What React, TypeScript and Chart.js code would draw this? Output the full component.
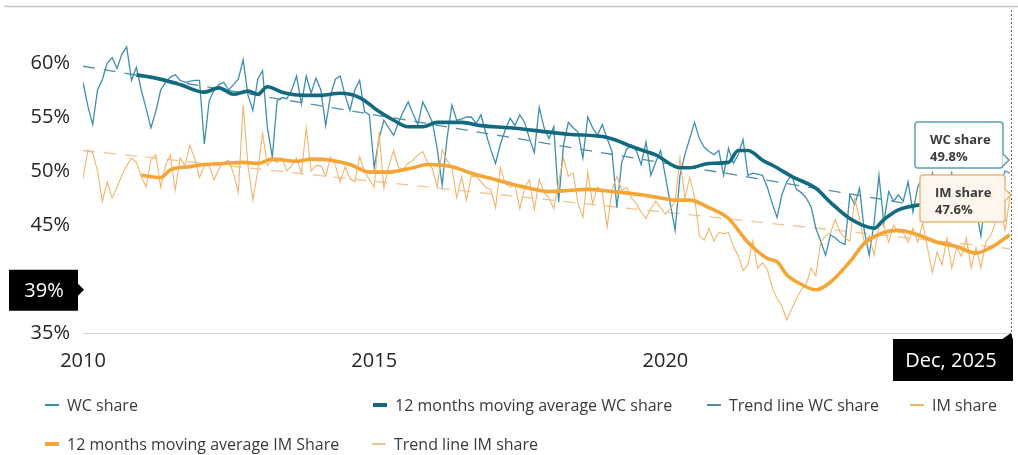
import React, { useEffect, useRef } from "react";
import { Chart, registerables } from "chart.js";

Chart.register(...registerables);

// ---------- data ----------
const yearTickMonths = [0, 60, 120];
const yearTickLabels = ["2010", "2015", "2020"];
const yTickValues = [35, 40, 45, 50, 55, 60];

const wcShare = [
  58.2, 56.0, 54.3, 57.5, 58.5, 60.0, 60.5, 59.5, 60.8, 61.5, 58.4, 59.6,
  57.5, 55.8, 54.0, 55.5, 57.5, 58.2, 58.7, 58.9, 58.4, 58.2, 58.3, 58.4,
  58.4, 52.5, 56.5, 57.5, 58.0, 58.2, 57.5, 58.0, 58.5, 60.3, 57.0, 55.6,
  58.5, 59.3, 54.0, 51.3, 56.5, 56.8, 56.7, 57.5, 58.8, 56.2, 58.8, 57.2,
  58.6, 57.5, 54.2, 57.0, 58.5, 58.8, 57.0, 55.6, 57.5, 58.4, 55.5, 55.2,
  50.3, 53.0, 54.7, 54.0, 53.3, 54.5, 55.5, 56.4, 55.3, 54.3, 56.4, 55.5,
  54.5, 52.0, 48.7, 53.0, 56.1, 54.7, 54.8, 55.0, 55.0, 54.4, 55.2, 53.5,
  52.0, 50.7, 52.5, 53.8, 54.9, 54.2, 55.2, 54.5, 53.0, 51.7, 55.9, 54.0,
  53.0, 54.1, 47.1, 52.4, 54.5, 54.0, 53.6, 51.2, 55.0, 54.0, 53.3, 54.3,
  53.0, 51.8, 46.6, 50.8, 52.0, 52.4, 51.9, 50.6, 52.7, 49.6, 50.8, 51.9,
  49.5, 47.0, 44.5, 49.6, 51.5, 53.0, 54.5, 53.0, 52.2, 51.8, 51.5, 51.9,
  49.6, 52.1, 50.7, 51.5, 52.9, 49.6, 49.8, 49.7, 49.6, 48.5, 47.0, 45.7,
  47.8, 49.0, 49.6, 48.3, 48.0, 47.5, 46.7, 44.7, 43.5, 42.2, 44.1, 43.8,
  43.4, 43.2, 47.8, 46.9, 48.4, 44.4, 42.2, 45.2, 49.6, 45.2, 48.1, 47.2,
  47.8, 47.2, 49.0, 46.2, 48.5, 49.5, 48.3, 49.8, 48.5, 49.5, 48.2, 49.8,
  48.0, 49.5, 47.5, 48.8, 46.5, 44.0, 47.5, 48.5, 49.5, 48.8, 50.0, 49.8,
];

const imShare = [
  49.3, 51.9, 51.7, 50.0, 47.2, 49.0, 47.5, 48.5, 49.6, 50.5, 51.2, 50.8,
  49.5, 48.5, 51.0, 51.5, 48.5, 50.5, 51.5, 48.2, 51.2, 50.5, 52.4, 51.2,
  49.4, 50.5, 50.5, 49.2, 50.2, 50.8, 51.0, 49.8, 48.0, 56.1, 50.5, 47.3,
  50.0, 53.5, 50.5, 51.0, 50.8, 51.2, 50.0, 50.5, 51.2, 49.8, 54.0, 50.0,
  50.5, 50.5, 49.5, 51.3, 50.5, 49.0, 50.4, 49.3, 49.0, 51.3, 50.0, 49.2,
  48.5, 53.6, 48.4, 50.5, 51.9, 50.3, 50.2, 50.7, 51.0, 51.5, 51.8, 50.8,
  50.2, 48.5, 52.0, 51.0, 50.3, 47.5, 49.5, 47.3, 49.5, 49.5, 49.0, 48.5,
  48.3, 46.6, 50.3, 48.8, 48.5, 48.8, 46.5, 48.5, 49.2, 46.4, 49.2, 48.0,
  47.5, 46.5, 49.0, 51.2, 49.5, 49.8, 47.0, 45.7, 49.9, 47.0, 48.5, 48.0,
  44.8, 48.3, 49.5, 48.2, 48.5, 47.5, 47.0, 46.2, 45.6, 46.5, 47.2, 46.6,
  46.0, 46.5, 47.2, 51.2, 47.5, 49.4, 47.6, 44.0, 43.6, 44.7, 43.5, 44.3,
  44.2, 44.3, 43.0, 42.2, 40.8, 41.3, 43.5, 41.0, 41.5, 40.9, 39.2, 38.2,
  37.5, 36.2, 37.2, 38.2, 39.0, 39.5, 41.0, 40.3, 43.4, 44.0, 44.3, 45.5,
  44.3, 43.8, 43.5, 47.5, 45.5, 43.4, 44.0, 42.2, 45.0, 45.0, 43.4, 45.0,
  44.3, 44.3, 43.4, 44.7, 43.4, 45.2, 42.9, 40.6, 42.5, 41.3, 43.8, 41.0,
  42.9, 42.1, 43.8, 41.0, 42.9, 41.0, 43.4, 44.0, 45.2, 46.5, 44.5, 47.6,
];

const maWcMonths = [11, 15, 20, 25, 28, 31, 34, 36, 38, 41, 46, 49, 53, 57, 61, 64, 67, 70, 73, 78, 82, 88, 96, 100, 108, 114, 118, 123, 125, 129, 133, 135, 137, 140, 143, 146, 151, 154, 158, 163, 165, 168, 173, 178, 183, 187, 191];
const maWcValues = [58.9, 58.6, 58.0, 57.3, 57.7, 57.1, 57.4, 57.1, 57.8, 57.3, 57.0, 57.0, 57.2, 56.8, 55.5, 54.7, 54.1, 54.1, 54.5, 54.5, 54.2, 54.0, 53.6, 53.4, 53.1, 52.1, 51.5, 50.3, 50.3, 50.7, 50.8, 51.9, 51.9, 51.0, 50.3, 49.5, 48.4, 47.1, 45.6, 44.7, 45.5, 46.4, 46.9, 47.1, 47.3, 47.6, 47.9];

const maImMonths = [12, 16, 18, 22, 25, 29, 33, 36, 39, 44, 47, 51, 55, 59, 63, 68, 71, 76, 80, 85, 91, 96, 100, 104, 109, 115, 119, 122, 125, 129, 133, 137, 141, 143, 145, 148, 151, 154, 158, 161, 165, 168, 172, 176, 180, 184, 187, 191];
const maImValues = [49.6, 49.4, 50.1, 50.4, 50.6, 50.7, 50.8, 50.7, 51.1, 50.9, 51.1, 51.0, 50.6, 49.9, 49.9, 50.3, 50.6, 50.4, 49.8, 49.2, 48.5, 48.1, 48.2, 48.3, 48.1, 47.8, 47.5, 47.3, 47.3, 46.6, 45.6, 43.4, 41.9, 41.6, 40.4, 39.5, 39.0, 39.7, 41.6, 43.3, 44.3, 44.5, 44.1, 43.4, 43.0, 42.4, 42.9, 44.1];

const trendMonths = [0, 191];
const trendWc = [59.7, 45.4];
const trendIm = [51.9, 42.8];

const seriesLabels = [
  "WC share",
  "12 months moving average WC share",
  "Trend line WC share",
  "IM share",
  "12 months moving average IM Share",
  "Trend line IM share",
];
const crosshairYValue = 39;
const crosshairXLabel = "Dec, 2025";
const tooltipLabels = ["WC share", "IM share"];

// ---------- styles ----------
const FONT = '"Segoe UI", "Open Sans", sans-serif';
const C_WC = "#3d8fae";
const C_WC_MA = "#126a80";
const C_WC_TR = "#4f8ea3";
const C_IM = "#f2b46c";
const C_IM_MA = "#f4a535";
const C_IM_TR = "#f1c591";

const pts = (xs: number[], ys: number[]) => ys.map((y, i) => ({ x: xs[i], y }));
const idx = (arr: number[]) => arr.map((_, i) => i);

function roundRect(ctx: CanvasRenderingContext2D, x: number, y: number, w: number, h: number, r: number) {
  ctx.beginPath();
  ctx.moveTo(x + r, y);
  ctx.lineTo(x + w - r, y);
  ctx.quadraticCurveTo(x + w, y, x + w, y + r);
  ctx.lineTo(x + w, y + h - r);
  ctx.quadraticCurveTo(x + w, y + h, x + w - r, y + h);
  ctx.lineTo(x + r, y + h);
  ctx.quadraticCurveTo(x, y + h, x, y + h - r);
  ctx.lineTo(x, y + r);
  ctx.quadraticCurveTo(x, y, x + r, y);
  ctx.closePath();
}

const overlayPlugin = {
  id: "overlay",
  afterDraw(chart: any) {
    const ctx: CanvasRenderingContext2D = chart.ctx;
    const xs = chart.scales.x;
    const ys = chart.scales.y;
    const last = wcShare.length - 1;
    const px = xs.getPixelForValue(last);
    ctx.save();

    // top separator line
    ctx.strokeStyle = "#c8c6c4";
    ctx.lineWidth = 1.5;
    ctx.beginPath();
    ctx.moveTo(4, 6.5);
    ctx.lineTo(1018, 6.5);
    ctx.stroke();

    // dotted vertical crosshair
    ctx.strokeStyle = "#666";
    ctx.lineWidth = 1;
    ctx.setLineDash([2, 2]);
    ctx.beginPath();
    ctx.moveTo(Math.round(px) + 1.5, 10);
    ctx.lineTo(Math.round(px) + 1.5, 338);
    ctx.stroke();
    ctx.setLineDash([]);

    // tooltips
    const drawTip = (x: number, y: number, w: number, h: number, fill: string, stroke: string, title: string, value: string, tipY: number) => {
      ctx.fillStyle = fill;
      ctx.strokeStyle = stroke;
      ctx.lineWidth = 1.5;
      roundRect(ctx, x, y, w, h, 3);
      ctx.fill();
      ctx.stroke();
      ctx.beginPath();
      ctx.moveTo(x + w - 0.5, tipY - 6);
      ctx.lineTo(x + w + 6, tipY);
      ctx.lineTo(x + w - 0.5, tipY + 6);
      ctx.closePath();
      ctx.fill();
      ctx.beginPath();
      ctx.moveTo(x + w, tipY - 6);
      ctx.lineTo(x + w + 6, tipY);
      ctx.lineTo(x + w, tipY + 6);
      ctx.stroke();
      ctx.fillStyle = "#3b3b3b";
      ctx.font = `bold 13px ${FONT}`;
      ctx.textAlign = "left";
      ctx.textBaseline = "middle";
      ctx.fillText(title, x + 15, y + 18);
      ctx.fillText(value, x + 15, y + 35);
    };
    drawTip(915, 122, 88, 46, "#ffffff", "#5a9fb3", tooltipLabels[0], wcShare[last].toFixed(1) + "%", 160);
    drawTip(920, 175, 85, 47, "#fdf6ec", "#ebb87b", tooltipLabels[1], imShare[last].toFixed(1) + "%", 195);

    // y crosshair label
    const cy = ys.getPixelForValue(crosshairYValue);
    ctx.fillStyle = "#000";
    ctx.beginPath();
    ctx.rect(9, cy - 20, 69, 41);
    ctx.fill();
    ctx.beginPath();
    ctx.moveTo(78, cy - 6);
    ctx.lineTo(84, cy);
    ctx.lineTo(78, cy + 6);
    ctx.closePath();
    ctx.fill();
    ctx.fillStyle = "#fff";
    ctx.font = `20px ${FONT}`;
    ctx.textAlign = "center";
    ctx.textBaseline = "middle";
    ctx.fillText(crosshairYValue + "%", 44, cy + 1);

    // x crosshair label
    ctx.fillStyle = "#000";
    ctx.beginPath();
    ctx.rect(893, 339, 120, 42);
    ctx.fill();
    ctx.beginPath();
    ctx.moveTo(1001, 340);
    ctx.lineTo(Math.round(px) + 1, 333);
    ctx.lineTo(1013, 340);
    ctx.closePath();
    ctx.fill();
    ctx.fillStyle = "#fff";
    ctx.fillText(crosshairXLabel, 951, 361);

    ctx.restore();
  },
};

export default function App() {
  const canvasRef = useRef<HTMLCanvasElement>(null);

  useEffect(() => {
    document.body.style.margin = "0";
    const canvas = canvasRef.current;
    if (!canvas) return;
    const chart = new Chart(canvas, {
      type: "line",
      data: {
        datasets: [
          { label: seriesLabels[0], data: pts(idx(wcShare), wcShare), borderColor: C_WC, borderWidth: 1.3, order: 2 },
          { label: seriesLabels[1], data: pts(maWcMonths, maWcValues), borderColor: C_WC_MA, borderWidth: 3.6, order: 0, cubicInterpolationMode: "monotone" },
          { label: seriesLabels[2], data: pts(trendMonths, trendWc), borderColor: C_WC_TR, borderWidth: 1.3, borderDash: [12, 9], order: 3 },
          { label: seriesLabels[3], data: pts(idx(imShare), imShare), borderColor: C_IM, borderWidth: 1.1, order: 1 },
          { label: seriesLabels[4], data: pts(maImMonths, maImValues), borderColor: C_IM_MA, borderWidth: 3.6, order: 0, cubicInterpolationMode: "monotone" },
          { label: seriesLabels[5], data: pts(trendMonths, trendIm), borderColor: C_IM_TR, borderWidth: 1.3, borderDash: [12, 9], order: 3 },
        ] as any,
      },
      options: {
        responsive: false,
        animation: false,
        layout: { padding: { top: 36, right: 8, left: 0, bottom: 0 } },
        elements: { point: { radius: 0, hoverRadius: 0 }, line: { tension: 0, fill: false } },
        plugins: { legend: { display: false }, tooltip: { enabled: false } },
        scales: {
          x: {
            type: "linear",
            min: 0,
            max: wcShare.length - 1,
            grid: { display: false, drawTicks: false },
            border: { display: true, color: "#d4d2d0", width: 1 },
            afterBuildTicks: (s: any) => {
              s.ticks = yearTickMonths.map((v) => ({ value: v }));
            },
            afterFit: (s: any) => {
              s.height = 122;
            },
            ticks: {
              autoSkip: false,
              maxRotation: 0,
              padding: 16,
              color: "#252423",
              font: { family: FONT, size: 20 },
              callback: (v: any) => {
                const i = yearTickMonths.indexOf(Number(v));
                return i >= 0 ? yearTickLabels[i] : "";
              },
            },
          },
          y: {
            type: "linear",
            min: 35,
            max: 62.5,
            grid: { display: false, drawTicks: false },
            border: { display: false },
            afterBuildTicks: (s: any) => {
              s.ticks = yTickValues.map((v) => ({ value: v }));
            },
            afterFit: (s: any) => {
              s.width = 83;
            },
            ticks: {
              padding: 13,
              color: "#252423",
              font: { family: FONT, size: 20 },
              callback: (v: any) => v + "%",
            },
          },
        },
      } as any,
      plugins: [overlayPlugin],
    });
    return () => chart.destroy();
  }, []);

  const legendItems = [
    { label: seriesLabels[0], color: C_WC, h: 1.5, left: 45, top: 405 },
    { label: seriesLabels[1], color: C_WC_MA, h: 4, left: 373, top: 405 },
    { label: seriesLabels[2], color: C_WC_TR, h: 1.5, left: 707, top: 405 },
    { label: seriesLabels[3], color: C_IM, h: 1.5, left: 910, top: 405 },
    { label: seriesLabels[4], color: C_IM_MA, h: 4, left: 45, top: 444 },
    { label: seriesLabels[5], color: C_IM_TR, h: 1.5, left: 372, top: 444 },
  ];

  return (
    <div style={{ position: "relative", width: 1018, height: 455, background: "#fff", overflow: "hidden" }}>
      <canvas ref={canvasRef} width={1018} height={455} style={{ display: "block" }} />
      {legendItems.map((it) => (
        <div
          key={it.label}
          style={{
            position: "absolute",
            left: it.left,
            top: it.top - 12,
            height: 24,
            display: "flex",
            alignItems: "center",
            whiteSpace: "nowrap",
            fontFamily: FONT,
            fontSize: 16,
            color: "#3a3a3a",
          }}
        >
          <span style={{ display: "inline-block", width: 14, height: it.h, background: it.color, marginRight: 8 }} />
          <span>{it.label}</span>
        </div>
      ))}
    </div>
  );
}
